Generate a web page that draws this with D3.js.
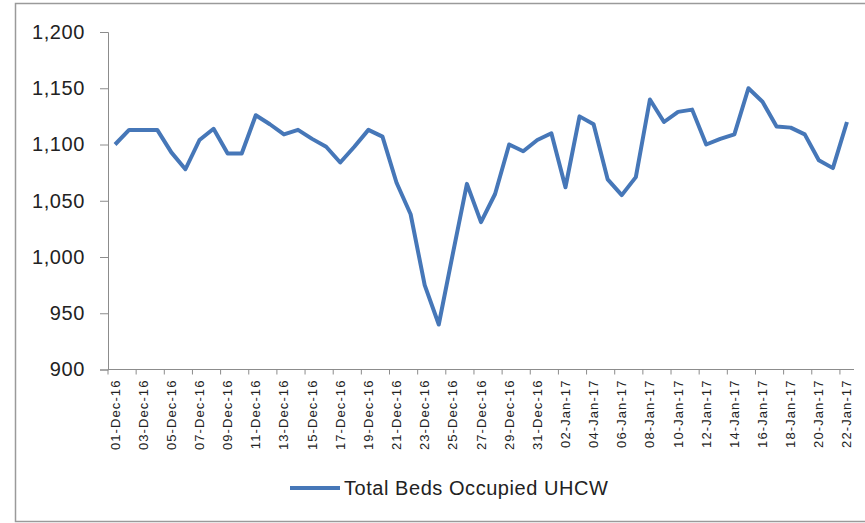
<!DOCTYPE html>
<html>
<head>
<meta charset="utf-8">
<script src="https://cdn.jsdelivr.net/npm/d3@7"></script>
<style>
  body { margin: 0; background: #fff; }
  svg text { font-family: "Liberation Sans", Arial, sans-serif; fill: #222; }
</style>
</head>
<body>
<svg id="chart" width="865" height="523"></svg>
<script>
// daily dates, 01-Dec-16 .. 22-Jan-17
var dates = [
    "01-Dec-16", "02-Dec-16", "03-Dec-16", "04-Dec-16", "05-Dec-16", "06-Dec-16", "07-Dec-16",
    "08-Dec-16", "09-Dec-16", "10-Dec-16", "11-Dec-16", "12-Dec-16", "13-Dec-16", "14-Dec-16",
    "15-Dec-16", "16-Dec-16", "17-Dec-16", "18-Dec-16", "19-Dec-16", "20-Dec-16", "21-Dec-16",
    "22-Dec-16", "23-Dec-16", "24-Dec-16", "25-Dec-16", "26-Dec-16", "27-Dec-16", "28-Dec-16",
    "29-Dec-16", "30-Dec-16", "31-Dec-16", "01-Jan-17", "02-Jan-17", "03-Jan-17", "04-Jan-17",
    "05-Jan-17", "06-Jan-17", "07-Jan-17", "08-Jan-17", "09-Jan-17", "10-Jan-17", "11-Jan-17",
    "12-Jan-17", "13-Jan-17", "14-Jan-17", "15-Jan-17", "16-Jan-17", "17-Jan-17", "18-Jan-17",
    "19-Jan-17", "20-Jan-17", "21-Jan-17", "22-Jan-17"
];

var bedsOccupied = [
    1100, 1113, 1113, 1113, 1093, 1078, 1104, 1114, 1092, 1092,
    1126, 1118, 1109, 1113, 1105, 1098, 1084, 1098, 1113, 1107,
    1066, 1038, 975, 940, 1003, 1065, 1031, 1056, 1100, 1094,
    1104, 1110, 1062, 1125, 1118, 1069, 1055, 1071, 1140, 1120,
    1129, 1131, 1100, 1105, 1109, 1150, 1138, 1116, 1115, 1109,
    1086, 1079, 1120
];

var yTicks = [900, 950, 1000, 1050, 1100, 1150, 1200];
var seriesName = "Total Beds Occupied UHCW";

var svg = d3.select("#chart");
var plotLeft = 108, plotRight = 854, plotTop = 32, plotBottom = 369.5;
var lineColor = "#4677b8";

// outer frame
svg.append("rect")
    .attr("x", 15.5).attr("y", 3.5)
    .attr("width", 860).attr("height", 518)
    .attr("fill", "none")
    .attr("stroke", "#9a9a9a")
    .attr("stroke-width", 1.5);

var x = d3.scaleBand()
    .domain(dates)
    .range([plotLeft, plotRight]);

var y = d3.scaleLinear()
    .domain([900, 1200])
    .range([plotBottom, plotTop]);

// y axis
var yAxis = svg.append("g")
    .attr("transform", "translate(" + plotLeft + ",0)")
    .call(d3.axisLeft(y).tickValues(yTicks).tickFormat(d3.format(",")).tickSize(8).tickPadding(15));
yAxis.select(".domain").attr("stroke", "#8c8c8c");
yAxis.selectAll(".tick line").attr("stroke", "#8c8c8c");
yAxis.selectAll("text")
    .style("font-size", "20px")
    .style("letter-spacing", "0.6px")
    .style("font-family", "Liberation Sans, Arial, sans-serif")
    .attr("fill", "#222");

// x axis: ticks between every second category, labels on even categories
var xg = svg.append("g").attr("transform", "translate(0," + plotBottom + ")");
xg.append("line")
    .attr("x1", plotLeft).attr("x2", plotRight)
    .attr("stroke", "#8c8c8c");

var tickPos = d3.range(0, dates.length, 2).map(function (i) { return x(dates[i]); });
xg.selectAll("line.tk")
    .data(tickPos)
    .enter().append("line")
    .attr("class", "tk")
    .attr("x1", function (d) { return d; })
    .attr("x2", function (d) { return d; })
    .attr("y1", 0).attr("y2", 5)
    .attr("stroke", "#8c8c8c");

var labelDates = dates.filter(function (d, i) { return i % 2 === 0; });
xg.selectAll("text")
    .data(labelDates)
    .enter().append("text")
    .attr("transform", function (d) {
        return "translate(" + (x(d) + x.bandwidth() / 2 + 4.5) + ",10) rotate(-90)";
    })
    .attr("text-anchor", "end")
    .style("font-size", "13px")
    .style("letter-spacing", "1.1px")
    .text(function (d) { return d; });

// the series
var line = d3.line()
    .x(function (d, i) { return x(dates[i]) + x.bandwidth() / 2; })
    .y(function (d) { return y(d); });

svg.append("path")
    .datum(bedsOccupied)
    .attr("fill", "none")
    .attr("stroke", lineColor)
    .attr("stroke-width", 4)
    .attr("stroke-linejoin", "round")
    .attr("d", line);

// legend
var legend = svg.append("g").attr("transform", "translate(290,488)");
legend.append("line")
    .attr("x1", 0).attr("x2", 50)
    .attr("stroke", lineColor)
    .attr("stroke-width", 4);
legend.append("text")
    .attr("x", 54).attr("y", 7)
    .style("font-size", "20px")
    .style("letter-spacing", "0.55px")
    .text(seriesName);
</script>
</body>
</html>
